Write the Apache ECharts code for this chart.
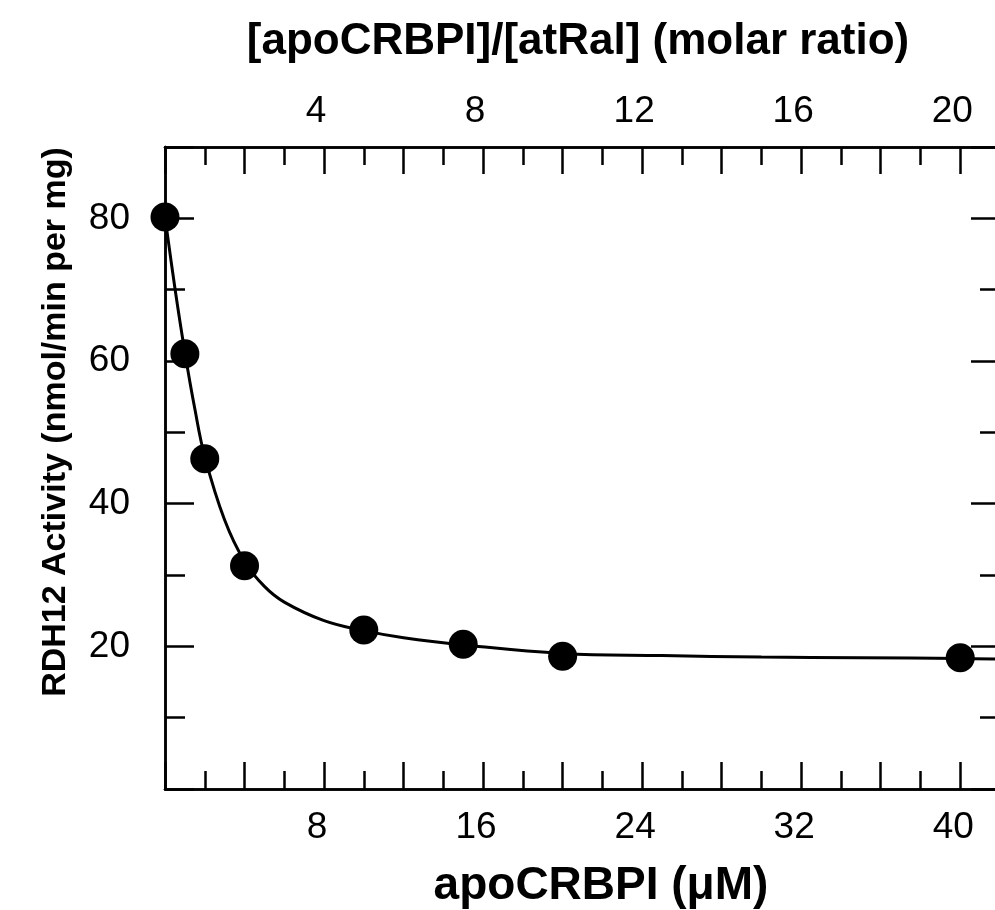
<!DOCTYPE html>
<html>
<head>
<meta charset="utf-8">
<script src="https://cdn.jsdelivr.net/npm/echarts@6/dist/echarts.min.js"></script>
<style>
  html, body { margin: 0; background: #fff; }
  #chart { width: 995px; height: 910px; }
</style>
</head>
<body>
<div id="chart"></div>
<script>
// measured points: apoCRBPI (uM) vs RDH12 activity
const concUM = [0, 1, 2, 4, 10, 15, 20, 40];
const activity = [80.2, 61.0, 46.3, 31.3, 22.3, 20.3, 18.6, 18.4];

// fitted curve
const curveX = [0, 0.5, 1, 1.5, 2, 3, 4, 5, 6, 8, 10, 12, 15, 20, 25, 30, 35, 40, 42];
const curveY = [80.2, 70.2, 61.2, 53.3, 46.6, 37.7, 31.9, 28.4, 26.2, 23.6, 22.2, 21.2, 20.2, 19.0, 18.7, 18.5, 18.4, 18.3, 18.2];

// tick labels
const bottomLabels = [8, 16, 24, 32, 40];
const topLabels = [4, 8, 12, 16, 20];
const leftLabels = [20, 40, 60, 80];

const FONT = 'Liberation Sans, Arial, sans-serif';
const black = '#000';

const chart = echarts.init(document.getElementById('chart'));

// one axis layer (major or minor ticks), all drawn on the frame edges
function axis(pos, min, max, interval, tickLen, labels, labelOpt) {
    return {
        type: 'value',
        position: pos,
        min: min,
        max: max,
        interval: interval,
        axisLine: { show: true, onZero: false, lineStyle: { color: black, width: 2.5 } },
        axisTick: { show: true, inside: true, length: tickLen, lineStyle: { color: black, width: 2.5 } },
        axisLabel: labels ? Object.assign({
            show: true,
            color: black,
            fontSize: 37,
            fontFamily: FONT,
            formatter: v => labels.includes(v) ? String(v) : ''
        }, labelOpt) : { show: false },
        splitLine: { show: false }
    };
}

const option = {
    animation: false,
    backgroundColor: '#fff',
    grid: { left: 165, right: -5, top: 147, bottom: 121, outerBoundsMode: 'none' },
    xAxis: [
        axis('bottom', 0, 42, 4, 27, bottomLabels, { margin: 20, padding: [0, 14, 0, 0] }),
        axis('bottom', 0, 42, 2, 18, null),
        axis('top', 0, 21, 2, 27, topLabels, { margin: 17, padding: [0, 16, 0, 0] }),
        axis('top', 0, 21, 1, 18, null)
    ],
    yAxis: [
        axis('left', 0, 90, 20, 29, leftLabels, { margin: 35 }),
        axis('left', 0, 90, 10, 20, null),
        axis('right', 0, 90, 20, 29, null),
        axis('right', 0, 90, 10, 20, null)
    ],
    graphic: [
        {
            type: 'text', x: 578, y: 42,
            style: { text: '[apoCRBPI]/[atRal] (molar ratio)', font: 'bold 44px ' + FONT, fill: black, align: 'center', verticalAlign: 'middle' }
        },
        {
            type: 'text', x: 601, y: 886,
            style: { text: 'apoCRBPI (μM)', font: 'bold 46px ' + FONT, fill: black, align: 'center', verticalAlign: 'middle' }
        },
        {
            type: 'text', x: 56, y: 422, rotation: Math.PI / 2,
            style: { text: 'RDH12 Activity (nmol/min per mg)', font: 'bold 34px ' + FONT, fill: black, align: 'center', verticalAlign: 'middle' }
        }
    ],
    series: [
        {
            type: 'line',
            xAxisIndex: 0,
            yAxisIndex: 0,
            data: curveX.map((x, i) => [x, curveY[i]]),
            smooth: 0.4,
            showSymbol: false,
            lineStyle: { color: black, width: 3 },
            z: 2
        },
        {
            type: 'scatter',
            xAxisIndex: 0,
            yAxisIndex: 0,
            data: concUM.map((x, i) => [x, activity[i]]),
            symbolSize: 29,
            itemStyle: { color: black, opacity: 1 },
            z: 3
        }
    ]
};

chart.setOption(option);
</script>
</body>
</html>
